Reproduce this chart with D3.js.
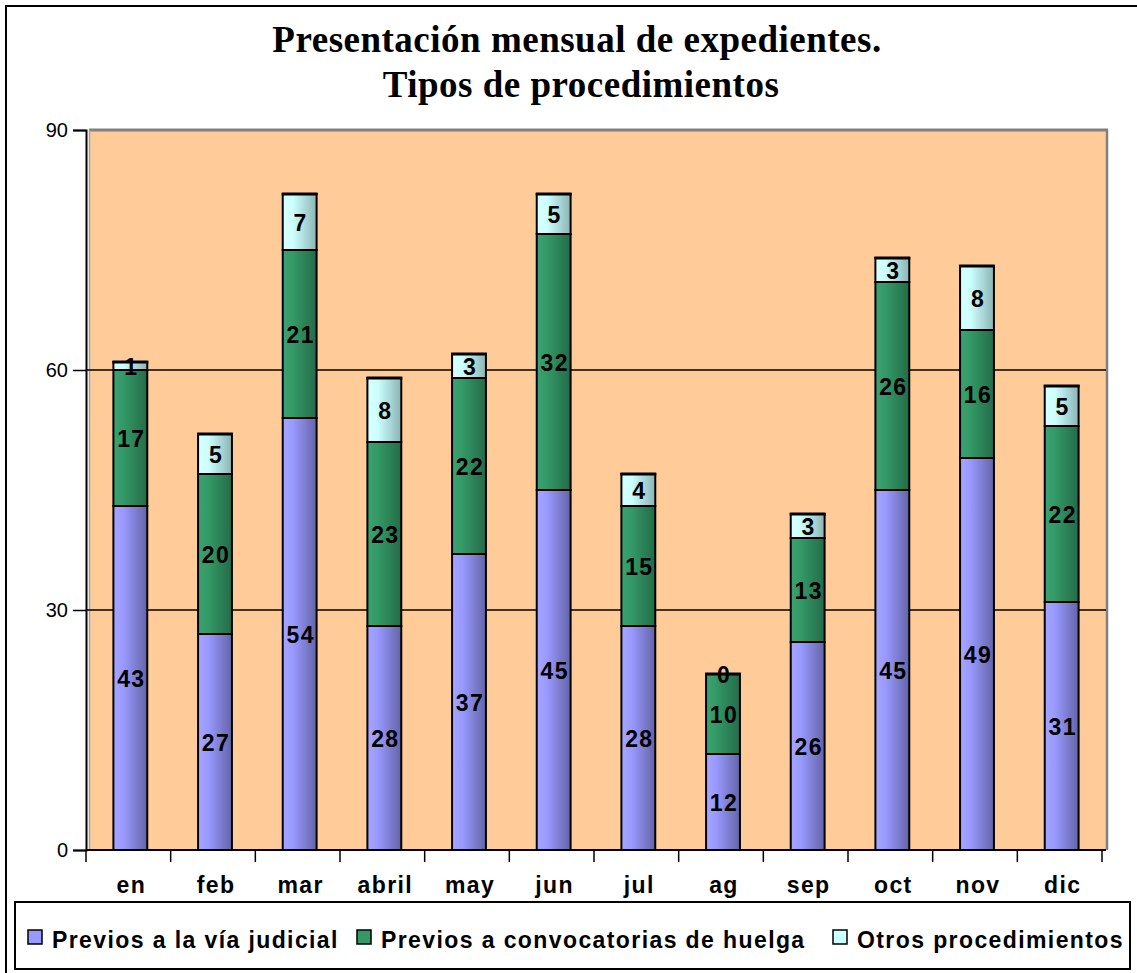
<!DOCTYPE html>
<meta charset="utf-8">
<style>
  body { margin: 0; background: #fff; }
  text { font-family: "Liberation Sans", Arial, sans-serif; }
  .title { font-family: "Liberation Serif", "Times New Roman", serif; font-weight: bold; font-size: 37px; letter-spacing: 0.5px; }
  .lbl { font-weight: bold; font-size: 23px; letter-spacing: 1.4px; }
  .grid line { stroke: #000; stroke-width: 1.5px; }
</style>
<body>
<script src="https://d3js.org/d3.v7.min.js"></script>
<div id="chart"></div>
<script>

// data
var months = ["en", "feb", "mar", "abril", "may", "jun", "jul", "ag", "sep", "oct", "nov", "dic"];
var judicial = [43, 27, 54, 28, 37, 45, 28, 12, 26, 45, 49, 31];
var huelga   = [17, 20, 21, 23, 22, 32, 15, 10, 13, 26, 16, 22];
var otros    = [1, 5, 7, 8, 3, 5, 4, 0, 3, 3, 8, 5];
var seriesNames = ["Previos a la vía judicial", "Previos a convocatorias de huelga", "Otros procedimientos"];
var yTicks = [0, 30, 60, 90];

var W = 1137, H = 973;
var plot = {left: 86, right: 1102, top: 130, bottom: 850};

var svg = d3.select("#chart").append("svg")
    .attr("width", W)
    .attr("height", H);

// gradients for the bar fills
var grads = [
  {id: "gBlue",  c: ["#a6a6ff", "#9999ff", "#6464a8"]},
  {id: "gGreen", c: ["#3da273", "#339966", "#246b48"]},
  {id: "gCyan",  c: ["#d8ffff", "#ccffff", "#8cb4b4"]}
];
var defs = svg.append("defs");
grads.forEach(function(g) {
  var lg = defs.append("linearGradient").attr("id", g.id)
      .attr("x1", "0%").attr("x2", "100%").attr("y1", "0%").attr("y2", "0%");
  lg.append("stop").attr("offset", "0%").attr("stop-color", g.c[0]);
  lg.append("stop").attr("offset", "30%").attr("stop-color", g.c[1]);
  lg.append("stop").attr("offset", "100%").attr("stop-color", g.c[2]);
});
var legendColors = ["#9999ff", "#339966", "#ccffff"];

// outer chart frame (cropped on right / bottom)
svg.append("rect")
    .attr("x", 6).attr("y", 6)
    .attr("width", W + 20).attr("height", H + 20)
    .attr("fill", "none").attr("stroke", "#000").attr("stroke-width", 2);

// title
svg.append("text").attr("class", "title")
    .attr("x", 577).attr("y", 52).attr("text-anchor", "middle")
    .text("Presentación mensual de expedientes.");
svg.append("text").attr("class", "title")
    .attr("x", 581).attr("y", 97).attr("text-anchor", "middle")
    .text("Tipos de procedimientos");

var x = d3.scaleBand().domain(months).range([plot.left, plot.right])
    .paddingInner(0.6).paddingOuter(0.3);
var y = d3.scaleLinear().domain([0, 90]).range([plot.bottom, plot.top]);

// plot area
svg.append("rect")
    .attr("x", plot.left + 3).attr("y", plot.top)
    .attr("width", 1107 - plot.left - 3).attr("height", plot.bottom - plot.top)
    .attr("fill", "#ffcc99");
// grey frame, thicker on top and right
svg.append("line").attr("x1", plot.left + 3).attr("x2", 1108).attr("y1", plot.top).attr("y2", plot.top)
    .attr("stroke", "#808080").attr("stroke-width", 3);
svg.append("line").attr("x1", 1107).attr("x2", 1107).attr("y1", plot.top).attr("y2", plot.bottom)
    .attr("stroke", "#808080").attr("stroke-width", 2.5);
svg.append("line").attr("x1", plot.left + 3.5).attr("x2", plot.left + 3.5).attr("y1", plot.top).attr("y2", plot.bottom)
    .attr("stroke", "#a0a0a0").attr("stroke-width", 1.5);

// gridlines
svg.append("g").attr("class", "grid")
  .selectAll("line")
  .data([30, 60])
  .enter().append("line")
    .attr("x1", plot.left).attr("x2", 1106)
    .attr("y1", function(d) { return y(d); })
    .attr("y2", function(d) { return y(d); });

// stacked bars
var table = months.map(function(m, i) {
  return {month: m, a: judicial[i], b: huelga[i], c: otros[i]};
});
var stack = d3.stack().keys(["a", "b", "c"])(table);

var layers = svg.append("g").selectAll("g")
  .data(stack)
  .enter().append("g")
    .attr("fill", function(d, i) { return "url(#" + grads[i].id + ")"; });

layers.selectAll("rect")
  .data(function(d) { return d; })
  .enter().append("rect")
    .attr("x", function(d) { return x(d.data.month) + 2; })
    .attr("y", function(d) { return y(d[1]); })
    .attr("width", x.bandwidth())
    .attr("height", function(d) { return y(d[0]) - y(d[1]); })
    .attr("stroke", "#000")
    .attr("stroke-width", 2);

// heavier edge on top of each full bar
svg.append("g").selectAll("line")
  .data(table)
  .enter().append("line")
    .attr("x1", function(d) { return x(d.month) + 1; })
    .attr("x2", function(d) { return x(d.month) + 3 + x.bandwidth(); })
    .attr("y1", function(d) { return y(d.a + d.b + d.c); })
    .attr("y2", function(d) { return y(d.a + d.b + d.c); })
    .attr("stroke", "#000").attr("stroke-width", 3);

// segment labels
layers.selectAll("text")
  .data(function(d) { return d; })
  .enter().append("text")
    .attr("class", "lbl")
    .attr("x", function(d) { return x(d.data.month) + 3 + x.bandwidth() / 2; })
    .attr("y", function(d) { return (y(d[0]) + y(d[1])) / 2 + 9; })
    .attr("text-anchor", "middle")
    .attr("fill", "#000")
    .text(function(d) { return d[1] - d[0]; });

// y axis
var gy = svg.append("g")
    .attr("transform", "translate(" + plot.left + ",0)")
    .call(d3.axisLeft(y).tickValues(yTicks).tickSize(13).tickPadding(5));
gy.select(".domain").attr("stroke-width", 2);
gy.selectAll(".tick line").attr("stroke-width", 1.5);
gy.selectAll(".tick text")
    .style("font-family", "'Liberation Sans', Arial, sans-serif")
    .style("font-size", "20px");

// x axis: ticks at category boundaries
var step = x.step();
var bounds = d3.range(months.length + 1).map(function(i) { return plot.left + i * step; });
svg.append("line")
    .attr("x1", plot.left).attr("x2", plot.right + 4)
    .attr("y1", plot.bottom).attr("y2", plot.bottom)
    .attr("stroke", "#000").attr("stroke-width", 2);
svg.append("g").selectAll("line")
  .data(bounds)
  .enter().append("line")
    .attr("x1", function(d) { return d; }).attr("x2", function(d) { return d; })
    .attr("y1", plot.bottom).attr("y2", plot.bottom + 12)
    .attr("stroke", "#000").attr("stroke-width", 1.5);
svg.append("g").selectAll("text")
  .data(months)
  .enter().append("text")
    .attr("class", "lbl")
    .attr("x", function(d) { return x(d) + 3 + x.bandwidth() / 2; })
    .attr("y", 893)
    .attr("text-anchor", "middle")
    .text(function(d) { return d; });

// legend
var legend = svg.append("g");
legend.append("rect")
    .attr("x", 15).attr("y", 902)
    .attr("width", 1115).attr("height", 67)
    .attr("fill", "#fff").attr("stroke", "#000").attr("stroke-width", 2);
var legendX = [28, 357, 833];
var items = legend.selectAll("g.item")
  .data(seriesNames)
  .enter().append("g")
    .attr("class", "item")
    .attr("transform", function(d, i) { return "translate(" + legendX[i] + ",930)"; });
items.append("rect")
    .attr("width", 14).attr("height", 14)
    .attr("fill", function(d, i) { return legendColors[i]; })
    .attr("stroke", "#000").attr("stroke-width", 1.5);
items.append("text")
    .attr("class", "lbl")
    .attr("x", 24).attr("y", 18)
    .text(function(d) { return d; });

</script>
</body>
